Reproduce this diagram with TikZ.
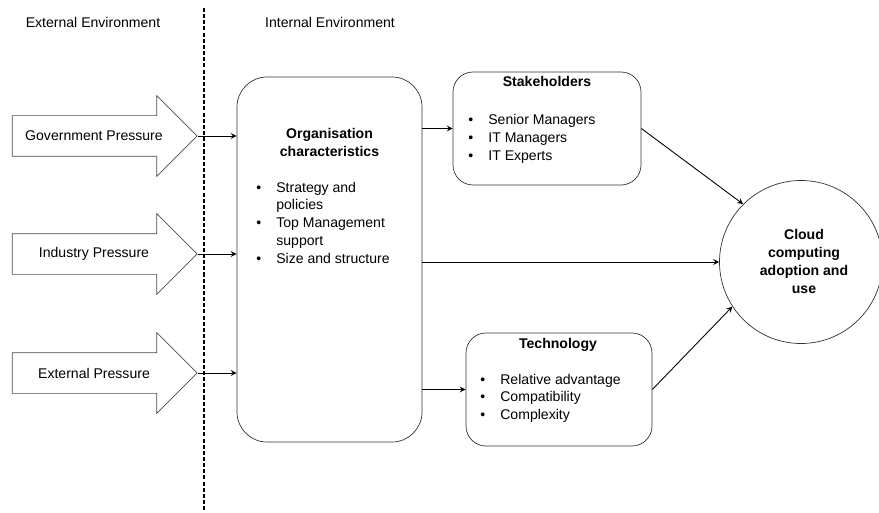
\documentclass[tikz,border=0pt]{standalone}
\usepackage{fontspec}
\setmainfont{Liberation Sans}
\usepackage{tikz}
\usetikzlibrary{arrows}
\usetikzlibrary{calc}
\usetikzlibrary{shapes.geometric,shapes.arrows}

\newcommand{\bl}{\textbullet}

\begin{document}
\begin{tikzpicture}[>=stealth,
	font=\fontsize{8}{10.2}\selectfont,
	box/.style={draw=black!80, rectangle, rounded corners=#1, inner sep=0},
	pressure/.style={single arrow, draw=black!70, minimum width=1.6cm, minimum height=3.7cm,
		single arrow head extend=0.4cm, single arrow head indent=0cm, inner xsep=0, inner ysep=0.4cm},
	link/.style={->, line width=0.5pt}]

\useasboundingbox (0,0) rectangle (17.58,10.24);

% environments
\node (extlabel) at (1.86,9.8) {External Environment};
\node (intlabel) at (6.6,9.8) {Internal Environment};
\draw[line width=1.1pt, dash pattern=on 2.3pt off 1.2pt] (4.08,10.08) -- (4.08,0);

% organisation
\node[box=0.6cm, minimum width=3.7cm, minimum height=7.3cm] (org) at (6.59,5.05) {};
\node[anchor=base, inner sep=0] (orgtitle) at (6.59,7.46)
	{\bfseries\begin{tabular}[t]{@{}c@{}}Organisation\\characteristics\end{tabular}};
\node[anchor=base west, inner sep=0] (orglist) at (5.12,6.4)
	{\begin{tabular}[t]{@{}p{0.4cm}@{}l@{}}
	\bl & Strategy and\\
	    & policies\\
	\bl & Top Management\\
	    & support\\
	\bl & Size and structure
	\end{tabular}};

% stakeholders
\node[box=0.4cm, minimum width=3.76cm, minimum height=2.26cm] (stake) at (10.94,7.67) {};
\node[anchor=base, inner sep=0] (staketitle) at (10.94,8.5) {\textbf{Stakeholders}};
\node[anchor=base west, inner sep=0] (stakelist) at (9.36,7.74)
	{\begin{tabular}[t]{@{}p{0.4cm}@{}l@{}}
	\bl & Senior Managers\\
	\bl & IT Managers\\
	\bl & IT Experts
	\end{tabular}};

% technology
\node[box=0.4cm, minimum width=3.72cm, minimum height=2.26cm] (tech) at (11.18,2.45) {};
\node[anchor=base, inner sep=0] (techtitle) at (11.16,3.28) {\textbf{Technology}};
\node[anchor=base west, inner sep=0] (techlist) at (9.6,2.56)
	{\begin{tabular}[t]{@{}p{0.4cm}@{}l@{}}
	\bl & Relative advantage\\
	\bl & Compatibility\\
	\bl & Complexity
	\end{tabular}};

% cloud
\node[circle, draw=black!80, minimum size=3.26cm, inner sep=0] (cloud) at (16.02,5.0) {};
\node[inner sep=0] (cloudtext) at (16.08,4.98)
	{\bfseries\begin{tabular}{@{}c@{}}Cloud\\computing\\adoption and\\use\end{tabular}};

% pressures
\foreach \n/\y/\t in {gov/7.52/Government Pressure,ind/5.16/Industry Pressure,ext/2.78/External Pressure}{
	\node[pressure] (\n) at (1.89,\y) {};
	\node (\n text) at (1.88,\y) {\t};
	\draw[link] (\n.tip) -- (org.west |- \n.tip);
}

\draw[link] (org.east |- stake.west) -- (stake.west);
\draw[link] (org.east |- cloud.west) -- (cloud.west);
\draw[link] (org.east |- tech.west) -- (tech.west);
\draw[link] (stake.east) -- (cloud.135);
\draw[link] (tech.east) -- (cloud.213);

\end{tikzpicture}
\end{document}
